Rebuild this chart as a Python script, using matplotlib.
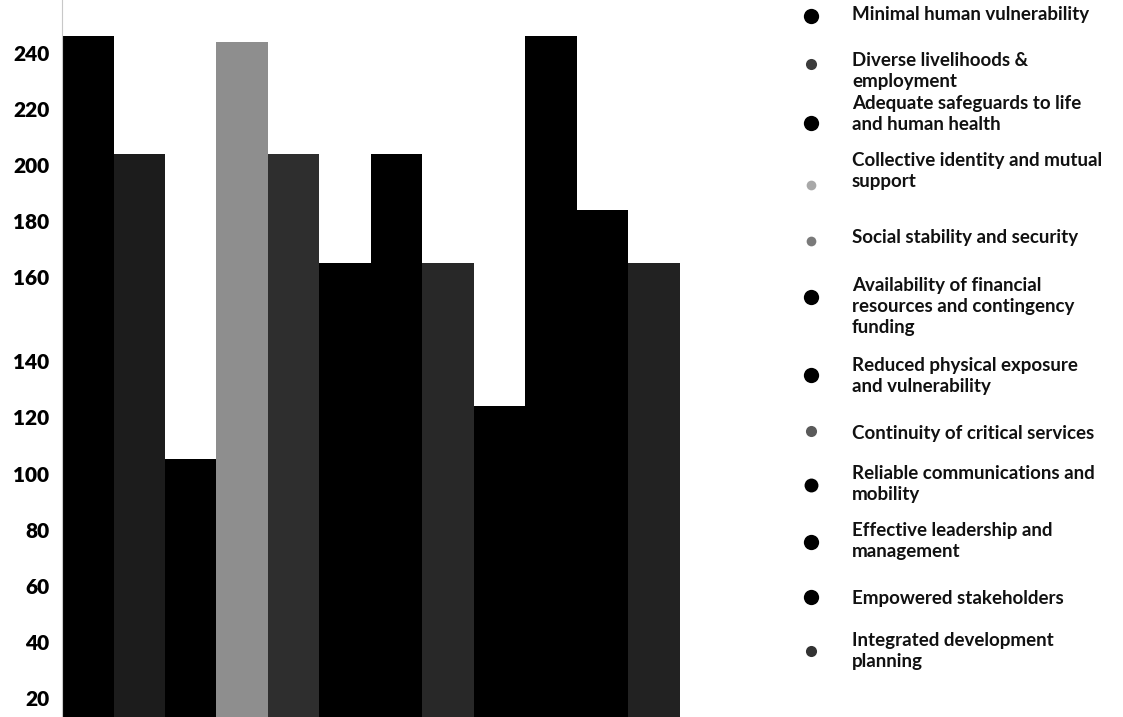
import numpy as np
import matplotlib
matplotlib.use("Agg")
import matplotlib.pyplot as plt

# ---------------- data ----------------
categories = [
    "Minimal human vulnerability",
    "Diverse livelihoods &\nemployment",
    "Adequate safeguards to life\nand human health",
    "Collective identity and mutual\nsupport",
    "Social stability and security",
    "Availability of financial\nresources and contingency\nfunding",
    "Reduced physical exposure\nand vulnerability",
    "Continuity of critical services",
    "Reliable communications and\nmobility",
    "Effective leadership and\nmanagement",
    "Empowered stakeholders",
    "Integrated development\nplanning",
]
values = [246, 204, 105, 244, 204, 165, 204, 165, 124, 246, 184, 165]
y_ticks = [20, 40, 60, 80, 100, 120, 140, 160, 180, 200, 220, 240]
y_tick_labels = [str(t) for t in y_ticks]

# ---------------- styles ----------------
bar_colors = ["#000000", "#1c1c1c", "#000000", "#8e8e8e", "#2e2e2e", "#000000",
              "#000000", "#282828", "#000000", "#000000", "#000000", "#222222"]
marker_colors = ["#000000", "#3c3c3c", "#000000", "#a8a8a8", "#7a7a7a", "#000000",
                 "#000000", "#5a5a5a", "#000000", "#000000", "#000000", "#333333"]
marker_sizes = [11, 8, 11, 7, 7, 11, 11, 8, 10, 11, 11, 8]


# The source axis is stretched between 140 and 160
def fwd(v):
    v = np.asarray(v, dtype=float)
    return np.where(v <= 140, v, np.where(v <= 160, 140 + (v - 140) * 1.5, v + 10))


def inv(u):
    u = np.asarray(u, dtype=float)
    return np.where(u <= 140, u, np.where(u <= 170, 140 + (u - 140) / 1.5, u - 10))


W, H = 1123, 717
fig = plt.figure(figsize=(W / 100, H / 100), dpi=100)
fig.patch.set_facecolor("white")

ax = fig.add_axes([62 / W, 0, (680 - 62) / W, 1])
ax.set_yscale("function", functions=(fwd, inv))
x = np.arange(len(values))
ax.bar(x, values, width=1.0, color=bar_colors, linewidth=0)
ax.set_xlim(-0.5, len(values) - 0.5)
ax.set_ylim(13.2, 258.8)
ax.set_yticks(y_ticks)
ax.set_yticklabels(y_tick_labels, fontsize=15, fontweight="heavy", family="Lato")
ax.yaxis.set_minor_locator(matplotlib.ticker.NullLocator())
ax.tick_params(axis="y", length=0, pad=9)
ax.set_xticks([])
for s in ["top", "right", "bottom"]:
    ax.spines[s].set_visible(False)
ax.spines["left"].set_color("#c8c8c8")
ax.spines["left"].set_linewidth(0.8)

# ---------------- legend (manual) ----------------
leg = fig.add_axes([0, 0, 1, 1])
leg.set_xlim(0, W)
leg.set_ylim(H, 0)
leg.axis("off")
marker_y = [16, 64, 123, 185, 241, 297, 375, 431, 485, 542, 597, 651]
text_y = [16, 62, 105, 162, 239, 287, 367, 435, 475, 532, 600, 642]
for i, lab in enumerate(categories):
    leg.plot([811], [marker_y[i]], marker="o", ms=marker_sizes[i],
             color=marker_colors[i], mec="none", linestyle="none")
    leg.text(852, text_y[i] - 10, lab, ha="left", va="top", fontsize=13.5,
             fontweight="bold", family="Lato", color="#111111", linespacing=1.3)

fig.savefig("out.png", dpi=100, facecolor="white")
